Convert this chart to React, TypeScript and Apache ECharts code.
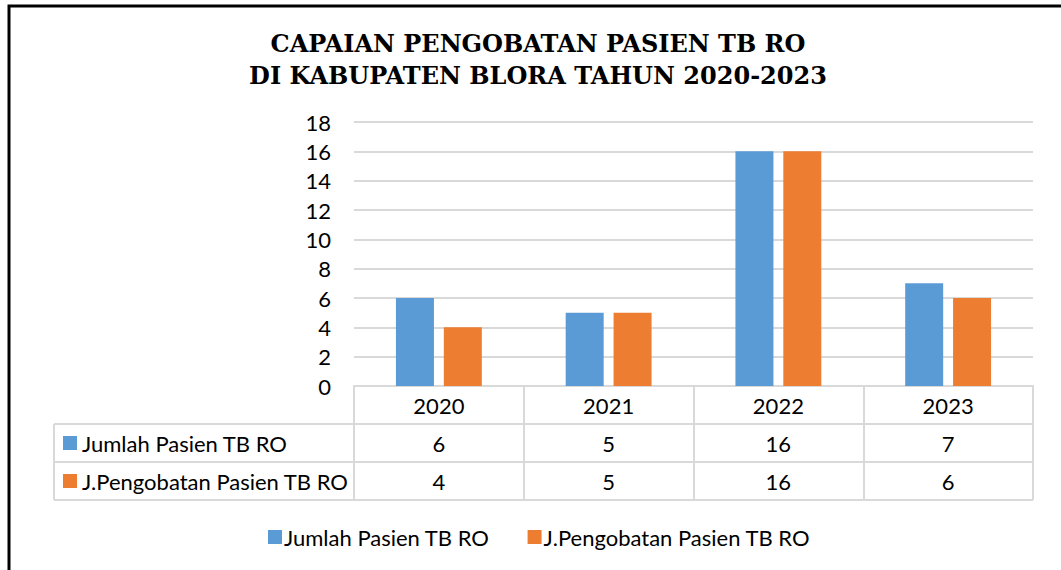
import React, { useEffect, useRef } from "react";
import * as echarts from "echarts";

const titleLines = ["CAPAIAN PENGOBATAN PASIEN TB RO", "DI KABUPATEN BLORA TAHUN 2020-2023"];
const years = ["2020", "2021", "2022", "2023"];
const seriesNames = ["Jumlah Pasien TB RO", "J.Pengobatan Pasien TB RO"];
const jumlahPasien = [6, 5, 16, 7];
const pengobatanPasien = [4, 5, 16, 6];
const colors = ["#5B9BD5", "#ED7D31"];

const FONT = "Lato";
const FS = 22;
const GRID = "#d9d9d9";

export default function App() {
  const ref = useRef<HTMLDivElement>(null);
  useEffect(() => {
    if (!ref.current) return;
    const chart = echarts.init(ref.current, undefined, { renderer: "svg" });
    const seriesData = [jumlahPasien, pengobatanPasien];
    const labelStyle = { fontFamily: FONT, fontSize: FS, color: "#000", margin: 8 };
    const valueAxis = (vals: number[], offset: number) => ({
      type: "category",
      gridIndex: 0,
      position: "bottom",
      offset,
      data: vals.map(String),
      axisLine: { show: false },
      axisTick: { show: false },
      axisLabel: { ...labelStyle, interval: 0 },
    });
    const tableLeft = 54;
    const tableRight = 1033;
    const rowY = [424, 462, 500];
    const graphics: any[] = [
      {
        type: "rect",
        shape: { x: 9, y: 6, width: 1200, height: 700 },
        style: { fill: "none", stroke: "#000", lineWidth: 3 },
        silent: true,
      },
      ...titleLines.map((t, i) => ({
        type: "text",
        x: 538,
        y: 43 + i * 32,
        style: {
          text: t,
          fontFamily: "DejaVu Serif",
          fontWeight: "bold",
          fontSize: 24,
          fill: "#000",
          align: "center",
          verticalAlign: "middle",
        },
      })),
      ...rowY.map((y) => ({
        type: "line",
        shape: { x1: tableLeft, y1: y, x2: tableRight, y2: y },
        style: { stroke: GRID, lineWidth: 2 },
      })),
      {
        type: "line",
        shape: { x1: tableLeft, y1: rowY[0], x2: tableLeft, y2: rowY[2] },
        style: { stroke: GRID, lineWidth: 2 },
      },
      ...seriesNames.flatMap((name, i) => [
        {
          type: "rect",
          shape: { x: 63, y: 436 + i * 38, width: 14, height: 14 },
          style: { fill: colors[i] },
        },
        {
          type: "text",
          x: 82,
          y: 443 + i * 38,
          style: {
            text: name,
            fontFamily: FONT,
            fontSize: FS,
            fill: "#000",
            verticalAlign: "middle",
          },
        },
      ]),
    ];
    chart.setOption({
      animation: false,
      grid: { left: 354, right: 28, top: 122, bottom: 184 },
      xAxis: [
        {
          type: "category",
          data: years,
          axisLine: { lineStyle: { color: GRID, width: 2 } },
          axisTick: { show: true, interval: 0, length: 114, lineStyle: { color: GRID, width: 2 } },
          axisLabel: { ...labelStyle, interval: 0 },
        },
        valueAxis(jumlahPasien, 38),
        valueAxis(pengobatanPasien, 76),
      ],
      yAxis: {
        type: "value",
        min: 0,
        max: 18,
        interval: 2,
        axisLine: { show: false },
        axisTick: { show: false },
        splitLine: { lineStyle: { color: GRID, width: 2 } },
        axisLabel: { fontFamily: FONT, fontSize: FS, color: "#000", margin: 23 },
      },
      legend: {
        left: 268,
        top: 526,
        padding: 0,
        icon: "rect",
        itemWidth: 14,
        itemHeight: 14,
        itemGap: 38,
        data: seriesNames,
        textStyle: { fontFamily: FONT, fontSize: FS, color: "#000", padding: [0, 0, 0, -3] },
      },
      series: seriesNames.map((name, i) => ({
        name,
        type: "bar",
        xAxisIndex: 0,
        data: seriesData[i],
        barWidth: 38,
        barGap: "26%",
        itemStyle: { color: colors[i] },
      })),
      graphic: graphics,
    });
    return () => chart.dispose();
  }, []);
  return (
    <div
      ref={ref}
      style={{ position: "fixed", left: 0, top: 0, width: 1061, height: 570, background: "#fff" }}
    />
  );
}
